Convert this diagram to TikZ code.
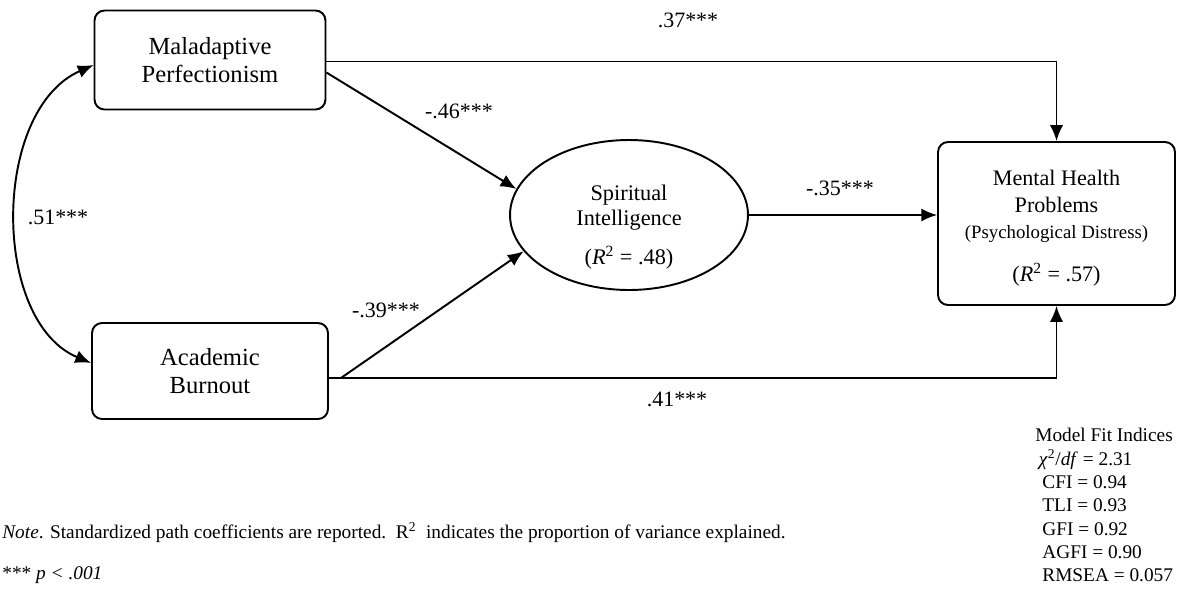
\documentclass[tikz,border=0pt]{standalone}
\usepackage{fontspec}
\setmainfont{Liberation Serif}
\usetikzlibrary{arrows.meta,shapes.geometric}

\tikzset{
  varbox/.style={draw, line width=1.1pt, rounded corners=0.2cm, align=center, inner sep=0pt},
  latent/.style={draw, ellipse, line width=1.1pt, inner sep=0pt},
  regpath/.style={line width=1.1pt, -{Latex[length=9pt,width=7.5pt]}},
  covpath/.style={line width=1.1pt, {Latex[length=9pt,width=7.5pt]}-{Latex[length=9pt,width=7.5pt]}},
  coef/.style={font=\fontsize{12.5}{15}\selectfont, inner sep=0pt}
}

\begin{document}
\begin{tikzpicture}[x=0.02cm,y=-0.02cm]
				\useasboundingbox (0,0) rectangle (1177,596);
				
				% variables
				\node[varbox, minimum width=4.62cm, minimum height=1.98cm, font=\fontsize{14}{16}\selectfont] (mp) at (210,60) {Maladaptive\\Perfectionism};
				\node[varbox, minimum width=4.72cm, minimum height=1.92cm, font=\fontsize{14}{16}\selectfont] (ab) at (210,371) {Academic\\Burnout};
				\node[latent, minimum width=4.76cm, minimum height=3cm] (si) at (629,215) {};
				\node[align=center, inner sep=0pt, font=\fontsize{12.7}{14.2}\selectfont] (silabel) at (629,227) {Spiritual\\Intelligence\\[8pt](\textit{R}\textsuperscript{2} = .48)};
				\node[varbox, minimum width=4.74cm, minimum height=3.26cm, font=\fontsize{12.6}{15.5}\selectfont] (mh) at (1056.5,223.5) {\rule{0pt}{14pt}Mental Health\\Problems\\[-1pt]{\fontsize{10.7}{13}\selectfont (Psychological Distress)}\\[9pt](\textit{R}\textsuperscript{2} = .57)};
				
				% paths
				\draw[regpath] ([yshift=-0.03cm]mp.east) -| (mh.north);
				\draw[regpath] ([yshift=-0.14cm]ab.east) -| (mh.south);
				\draw[regpath] ([yshift=-0.25cm]mp.east) -- (si.167);
				\coordinate (abfork) at ([yshift=-0.14cm,xshift=0.24cm]ab.east);
				\draw[regpath] (abfork) -- (si.199);
				\draw[regpath] (si.east) -- (si.east -| mh.west);
				\draw[covpath] ([yshift=-0.1cm]mp.west) .. controls +(-102,45) and +(-100,-42) .. ([yshift=0.16cm]ab.west);
				
				% coefficients
				\node[coef] (c37) at (688,20) {.37***};
				\node[coef] (c46) at (459,111) {-.46***};
				\node[coef] (c35) at (840,188) {-.35***};
				\node[coef] (c39) at (386,310) {-.39***};
				\node[coef] (c41) at (677,399) {.41***};
				\node[coef] (c51) at (58,217) {.51***};
				
				% notes
				\node[anchor=west, inner sep=0pt, font=\fontsize{11}{13}\selectfont] (note) at (2,533) {\textit{Note}. Standardized path coefficients are reported.\ \ R\textsuperscript{2}\ \ indicates the proportion of variance explained.};
				\node[anchor=west, inner sep=0pt, font=\fontsize{11}{13}\selectfont] (sig) at (2,575) {*** \textit{p < .001}};
				\node[anchor=north west, inner sep=0pt, align=left, font=\fontsize{11}{13.3}\selectfont] (fit) at (1035,428) {Model Fit Indices\\\hspace*{2pt}\textit{χ}\textsuperscript{2}/\textit{df} = 2.31\\\hspace*{4pt}CFI = 0.94\\\hspace*{4pt}TLI = 0.93\\\hspace*{4pt}GFI = 0.92\\\hspace*{4pt}AGFI = 0.90\\\hspace*{4pt}RMSEA = 0.057};
			\end{tikzpicture}
\end{document}
